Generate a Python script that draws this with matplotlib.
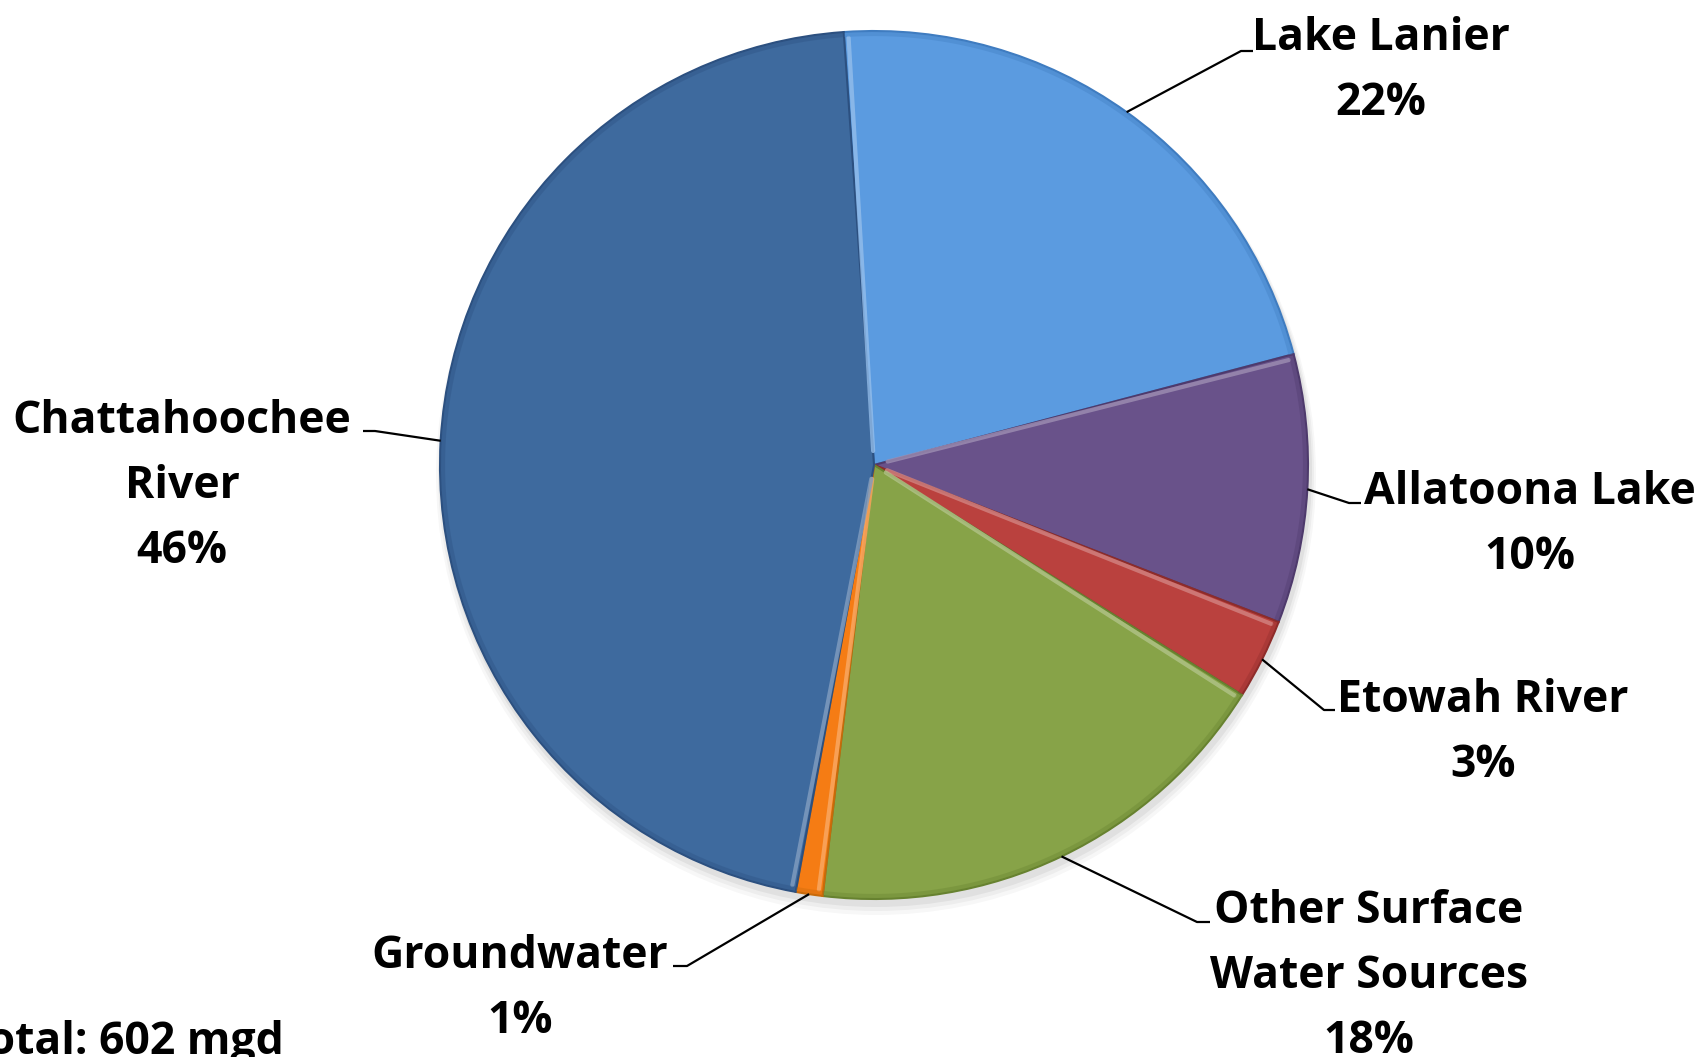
import numpy as np
import matplotlib
matplotlib.use("Agg")
import matplotlib.pyplot as plt
from matplotlib.colors import to_rgb

# Water supply sources, share of total withdrawal (clockwise from 12 o'clock)
sources = ["Lake Lanier", "Allatoona Lake", "Etowah River",
           "Other Surface\nWater Sources", "Groundwater", "Chattahoochee\nRiver"]
shares = [22, 10, 3, 18, 1, 46]
colors = ["#5B9BE0", "#69528A", "#BA413E", "#87A348", "#F57C14", "#3E6A9E"]
edge_colors = ["#3F7CC0", "#4E3A6C", "#8E2C2A", "#678230", "#C86A0A", "#2C5080"]
total_text = "Total: 602 mgd"

W, H = 1702, 1057
CX, CY, R = 874, 465, 434   # pie centre / radius in pixels (image y down)

# label layout: (x centre, first baseline, elbow x, elbow y, tail x)
label_pos = [
    (1381, 50, 1241, 51, 1253),
    (1530, 504, 1349, 503, 1361),
    (1483, 712, 1324, 710, 1335),
    (1369, 923, 1197, 922, 1210),
    (520, 968, 687, 966, 673),
    (182, 433, 375, 431, 363),
]
LINE_PITCH = 65


def lighten(c, amt):
    r, g, b = to_rgb(c)
    return (r + (1 - r) * amt, g + (1 - g) * amt, b + (1 - b) * amt)


plt.rcParams['font.family'] = ['Open Sans', 'DejaVu Sans']
fig = plt.figure(figsize=(W / 100, H / 100), dpi=100)
ax = fig.add_axes([0, 0, 1, 1])

# soft shadow under the pie
for k, a in enumerate([0.05, 0.04, 0.03]):
    sh = plt.Circle((CX + 2, H - CY - 6 - 2 * k), R + 2 + 2 * k, color='black',
                    alpha=a, lw=0, zorder=0)
    ax.add_patch(sh)

wedges, _ = ax.pie(shares, colors=colors, startangle=94, counterclock=False,
                   center=(CX, H - CY), radius=R,
                   wedgeprops=dict(linewidth=1.5))
for w, ec in zip(wedges, edge_colors):
    w.set_edgecolor(ec)
    w.set_zorder(2)

# bevel highlight along the leading radial edge of each slice
for w, c in zip(wedges, colors):
    a = np.deg2rad(w.theta2 - 0.6)
    r0, r1 = 14, R - 6
    ax.plot([CX + r0 * np.cos(a), CX + r1 * np.cos(a)],
            [H - CY + r0 * np.sin(a), H - CY + r1 * np.sin(a)],
            color=lighten(c, 0.35), lw=3, alpha=0.8, zorder=3,
            solid_capstyle='round')
    # darker rim just inside the outer arc
    t = np.linspace(np.deg2rad(w.theta1 + 0.3), np.deg2rad(w.theta2 - 0.3), 100)
    ax.plot(CX + (R - 3) * np.cos(t), H - CY + (R - 3) * np.sin(t),
            color=edge_colors[colors.index(c)], lw=3, alpha=0.35, zorder=3)

ax.set_xlim(0, W)
ax.set_ylim(0, H)
ax.set_aspect('equal')
ax.axis('off')

fs = 32
for w, name, pct, (tx, ty, ex, ey, tail) in zip(wedges, sources, shares, label_pos):
    mid = np.deg2rad((w.theta1 + w.theta2) / 2)
    px = CX + R * np.cos(mid)
    py = CY - R * np.sin(mid)
    ax.plot([px, ex, tail], [H - py, H - ey, H - ey], color="black", lw=1.6,
            solid_capstyle='butt', zorder=4)
    lines = name.split("\n") + [f"{pct}%"]
    for i, line in enumerate(lines):
        ax.text(tx, H - (ty + i * LINE_PITCH), line, ha='center', va='baseline',
                fontsize=fs, fontweight='bold', color='black')

ax.text(284, H - 1054, total_text, ha='right', va='baseline',
        fontsize=fs, fontweight='bold', color='black')

fig.savefig("out.png", dpi=100, facecolor='white')
